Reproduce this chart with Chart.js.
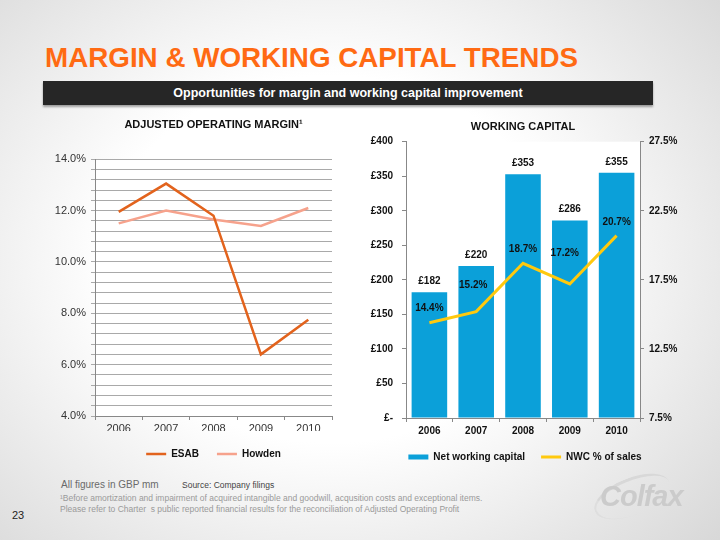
<!DOCTYPE html>
<html>
<head>
<meta charset="utf-8">
<title>Margin & Working Capital Trends</title>
<script src="https://cdn.jsdelivr.net/npm/chart.js@4.4.1/dist/chart.umd.min.js"></script>
<style>
    html, body { margin: 0; padding: 0; }
    body {
        width: 720px; height: 540px; position: relative; overflow: hidden;
        background: radial-gradient(ellipse 78% 85% at 46% 48%, #ffffff 40%, #d2d2d2 100%);
        font-family: "Liberation Sans", Arial, sans-serif;
    }
    #titulo {
        position: absolute; left: 45px; top: 44px;
        font-size: 28px; line-height: 28px; font-weight: bold; color: #ff6a13;
        white-space: nowrap; transform-origin: left top;
    }
    #faixa {
        position: absolute; left: 43px; top: 81px; width: 610px; height: 24px;
        background: #262626; color: #fff; text-align: center;
        font-size: 12.5px; line-height: 24px; font-weight: bold;
        box-shadow: 0 2px 2px rgba(0, 0, 0, 0.35);
    }
    canvas { position: absolute; }
    #graficoMargem { left: 30px; top: 110px; }
    #graficoCapital { left: 355px; top: 110px; }
    .nota { position: absolute; white-space: nowrap; }
    #valores { left: 61px; top: 479px; font-size: 10px; line-height: 12px; color: #6a6a6a; }
    #fonte { left: 182px; top: 480px; font-size: 8.5px; line-height: 10px; color: #444; }
    #rodape1 { left: 60px; top: 493px; font-size: 8.5px; line-height: 10px; color: #9a9a9a; }
    #rodape2 { left: 60px; top: 504px; font-size: 8.5px; line-height: 10px; color: #9a9a9a; }
    #pagina { left: 12px; top: 509px; font-size: 11px; line-height: 13px; color: #222; }
    #logo {
        left: 600px; top: 480px; font-size: 29px; line-height: 32px;
        font-weight: bold; font-style: italic; color: #cbcbcb; letter-spacing: -1px;
    }
    #arco {
        position: absolute; left: 592px; top: 478px; width: 78px; height: 34px;
        border-top: 3px solid #d8d8d8; border-left: 2px solid #dedede;
        border-radius: 50%; transform: rotate(-22deg);
    }
</style>
</head>
<body>
<div id="titulo">MARGIN &amp; WORKING CAPITAL TRENDS</div>
<div id="faixa">Opportunities for margin and working capital improvement</div>

<canvas id="graficoMargem" width="310" height="359"></canvas>
<canvas id="graficoCapital" width="340" height="362"></canvas>

<div class="nota" id="valores">All figures in GBP mm</div>
<div class="nota" id="fonte">Source: Company filings</div>
<div class="nota" id="rodape1">¹Before amortization and impairment of acquired intangible and goodwill, acqusition costs and exceptional items.</div>
<div class="nota" id="rodape2">Please refer to Charter&nbsp; s public reported financial results for the reconciliation of Adjusted Operating Profit</div>
<div class="nota" id="pagina">23</div>
<div id="arco"></div>
<div class="nota" id="logo">Colfax</div>

<script>
// Dados
const anos = ['2006', '2007', '2008', '2009', '2010'];
const margemEsab = [11.95, 13.05, 11.8, 6.4, 7.75];
const margemHowden = [11.5, 12.0, 11.65, 11.4, 12.1];
const capitalGiro = [182, 220, 353, 286, 355];
const capitalPctVendas = [14.4, 15.2, 18.7, 17.2, 20.7];

// Faixas dos eixos
const margemMin = 4, margemMax = 14, margemPasso = 0.4, margemRotulo = 2;
const capitalMin = 0, capitalMax = 400, capitalPasso = 50;
const pctMin = 7.5, pctMax = 27.5, pctPasso = 5;

const fonte = '"Liberation Sans", Arial, sans-serif';
Chart.defaults.font.family = fonte;
Chart.defaults.color = '#222';

// Ajusta a largura do título ao original
const titulo = document.getElementById('titulo');
titulo.style.transform = 'scaleX(' + (533 / titulo.getBoundingClientRect().width) + ')';

// Fundo branco da área do gráfico
const fundoBranco = {
    id: 'fundoBranco',
    beforeDraw(chart) {
        const { ctx, chartArea: a } = chart;
        ctx.save();
        ctx.fillStyle = '#ffffff';
        ctx.fillRect(a.left, a.top, a.width, a.height);
        ctx.restore();
    }
};

// Rótulos de valores em cima das barras e da linha
const rotulosValores = {
    id: 'rotulosValores',
    afterDatasetsDraw(chart, args, opts) {
        const ctx = chart.ctx;
        ctx.save();
        ctx.font = 'bold 10px ' + fonte;
        ctx.fillStyle = '#111';
        ctx.textAlign = 'center';
        ctx.textBaseline = 'middle';
        chart.getDatasetMeta(0).data.forEach((barra, i) => {
            ctx.fillText('£' + capitalGiro[i], barra.x, barra.y - 11);
        });
        chart.getDatasetMeta(1).data.forEach((ponto, i) => {
            ctx.fillText(capitalPctVendas[i].toFixed(1) + '%', ponto.x + opts.desvioX[i], ponto.y - opts.desvioY[i]);
        });
        ctx.restore();
    }
};

function ehRotuloMaior(v) {
    const q = v / margemRotulo;
    return Math.abs(q - Math.round(q)) < 1e-6;
}

// Gráfico de margem operacional ajustada
new Chart(document.getElementById('graficoMargem'), {
    type: 'line',
    data: {
        labels: anos,
        datasets: [
            {
                label: 'ESAB',
                data: margemEsab,
                borderColor: '#e2631d',
                backgroundColor: '#e2631d',
                borderWidth: 2.5,
                pointRadius: 0,
                pointStyle: 'line',
                tension: 0
            },
            {
                label: 'Howden',
                data: margemHowden,
                borderColor: '#f6a28c',
                backgroundColor: '#f6a28c',
                borderWidth: 2.5,
                pointRadius: 0,
                pointStyle: 'line',
                tension: 0
            }
        ]
    },
    options: {
        responsive: false,
        animation: false,
        layout: { padding: { right: 8 } },
        plugins: {
            title: {
                display: true,
                text: 'ADJUSTED OPERATING MARGIN¹',
                fullSize: false,
                color: '#111',
                font: { size: 11, weight: 'bold' },
                padding: { top: 8, bottom: 28 }
            },
            legend: {
                position: 'bottom',
                fullSize: false,
                labels: {
                    usePointStyle: true,
                    pointStyleWidth: 20,
                    boxHeight: 3,
                    padding: 18,
                    color: '#111',
                    font: { size: 10, weight: 'bold' }
                }
            },
            tooltip: { enabled: false }
        },
        scales: {
            x: {
                offset: true,
                grid: { offset: true, drawOnChartArea: false, tickLength: 4, color: '#888' },
                border: { color: '#888' },
                ticks: { padding: 2, color: '#333', font: { size: 11 } },
                afterFit(scale) { scale.height = 15; }
            },
            y: {
                min: margemMin,
                max: margemMax,
                grid: { color: '#a9a9a9', tickLength: 4 },
                border: { color: '#888' },
                ticks: {
                    stepSize: margemPasso,
                    autoSkip: false,
                    padding: 5,
                    color: '#333',
                    font: { size: 11 },
                    callback: v => ehRotuloMaior(v) ? v.toFixed(1) + '%' : ''
                },
                afterFit(scale) { scale.width = 65; }
            }
        }
    },
    plugins: [fundoBranco]
});

// Gráfico de capital de giro
new Chart(document.getElementById('graficoCapital'), {
    type: 'bar',
    data: {
        labels: anos,
        datasets: [
            {
                type: 'bar',
                label: 'Net working capital',
                data: capitalGiro,
                backgroundColor: '#0ba0d9',
                borderWidth: 0,
                barPercentage: 0.76,
                categoryPercentage: 1,
                pointStyle: 'rect',
                order: 1,
                yAxisID: 'y'
            },
            {
                type: 'line',
                label: 'NWC % of sales',
                data: capitalPctVendas,
                borderColor: '#ffc90e',
                backgroundColor: '#ffc90e',
                borderWidth: 3,
                pointRadius: 0,
                pointStyle: 'line',
                tension: 0,
                order: 0,
                yAxisID: 'y1'
            }
        ]
    },
    options: {
        responsive: false,
        animation: false,
        plugins: {
            title: {
                display: true,
                text: 'WORKING CAPITAL',
                fullSize: false,
                color: '#111',
                font: { size: 11, weight: 'bold' },
                padding: { top: 10, bottom: 8.5 }
            },
            legend: {
                position: 'bottom',
                labels: {
                    usePointStyle: true,
                    pointStyleWidth: 20,
                    boxHeight: 5,
                    padding: 16,
                    color: '#111',
                    font: { size: 10, weight: 'bold' },
                    sort: (a, b) => a.datasetIndex - b.datasetIndex
                }
            },
            tooltip: { enabled: false },
            rotulosValores: {
                desvioX: [0, -3, 0, -5, 0],
                desvioY: [14, 26, 14, 31, 13]
            }
        },
        scales: {
            x: {
                grid: { drawOnChartArea: false, tickLength: 4, color: '#888' },
                border: { color: '#888' },
                ticks: { padding: 3, color: '#111', font: { size: 10, weight: 'bold' } },
                afterFit(scale) { scale.height = 18; }
            },
            y: {
                position: 'left',
                min: capitalMin,
                max: capitalMax,
                grid: { drawOnChartArea: false, tickLength: 4, color: '#888' },
                border: { color: '#888' },
                ticks: {
                    stepSize: capitalPasso,
                    padding: 9,
                    color: '#111',
                    font: { size: 10, weight: 'bold' },
                    callback: v => v === 0 ? '£-' : '£' + v
                },
                afterFit(scale) { scale.width = 51; }
            },
            y1: {
                position: 'right',
                min: pctMin,
                max: pctMax,
                grid: { drawOnChartArea: false, tickLength: 4, color: '#888' },
                border: { color: '#888' },
                ticks: {
                    stepSize: pctPasso,
                    padding: 5,
                    color: '#111',
                    font: { size: 10, weight: 'bold' },
                    callback: v => v.toFixed(1) + '%'
                },
                afterFit(scale) { scale.width = 55; }
            }
        }
    },
    plugins: [fundoBranco, rotulosValores]
});
</script>
</body>
</html>
